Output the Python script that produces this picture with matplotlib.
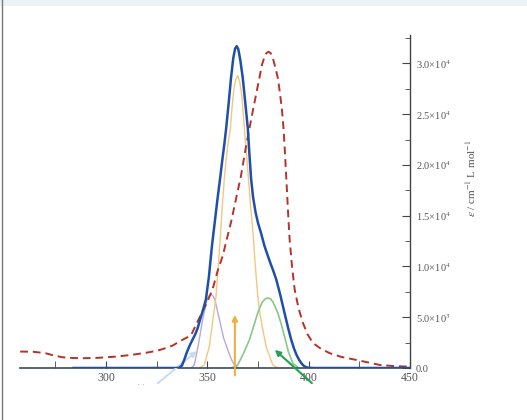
import matplotlib
matplotlib.use("Agg")
import matplotlib.pyplot as plt
from matplotlib.patches import Rectangle
from matplotlib.lines import Line2D
from matplotlib.ticker import MultipleLocator, FixedLocator

plt.rcParams["mathtext.fontset"] = "stix"

# ---- data ----
red_x = [257.7, 264, 270.1, 274, 278.4, 283, 288.3, 296, 304.8, 313, 321.3, 327, 332.8,
         337, 341.9, 346, 349.5, 352.6, 355, 357.6, 360, 361.7, 364, 366.5, 369.2, 372.4,
         375.7, 377, 378.3, 379.3, 380.3, 381.3, 382.5, 383.7, 384.8, 385.9, 386.9, 387.6,
         388.1, 388.9, 389.8, 390.6, 391.8, 393.1, 395, 397.2, 399.5, 402.2, 406, 410.4,
         416, 423.6, 430, 435.1, 442, 450]
red_y = [1620, 1600, 1460, 1250, 1060, 990, 960, 1000, 1120, 1300, 1550, 1800, 2200,
         2700, 3200, 4900, 6300, 7740, 9500, 11040, 13000, 14350, 16500, 18800, 21950, 25270,
         28570, 29900, 30700, 31050, 31150, 31000, 30400, 29500, 28570, 27000, 25270, 23600,
         21950, 18980, 15500, 12700, 10000, 7740, 5900, 4430, 3300, 2450, 1900, 1460,
         1100, 790, 520, 300, 190, 130]

blue_x = [284, 330, 336, 337.5, 338.6, 340, 341.5, 342.7, 344, 345.2, 346.5, 348, 349.3,
          350.8, 352.3, 353.7, 355, 356.3, 357.6, 358.5, 359.3, 360.5, 361.7, 362.8, 363.7,
          364.5, 365.3, 366.3, 367.5, 368.8, 370.0, 370.8, 371.6, 372.6, 373.8, 375, 376.5,
          378.2, 379.6, 381, 382.5, 384, 386, 388.1, 389.8, 391.4, 392.8, 394, 395.3, 396.5,
          397.5, 398.5, 400, 403, 450]
blue_y = [0, 0, 0, 250, 794, 1600, 2300, 2780, 3300, 3900, 4800, 5800, 6750,
          9000, 12030, 14400, 16600, 18650, 20800, 22200, 23600, 26000, 28570, 30500, 31450,
          31700, 31400, 30300, 28570, 26000, 23600, 21000, 18650, 16800, 15350, 14300, 13300,
          12030, 11200, 10400, 9600, 8730, 7200, 5420, 4000, 2780, 1900, 1300, 800, 450,
          230, 100, 20, 0, 0]

orange_x = [346, 348.5, 351, 354.3, 355.5, 356.7, 357.5, 358.4, 359.5, 360.4, 361.4, 362.2,
            363, 364, 365, 366, 367, 368.3, 369.3, 370.3, 371.3, 372.4, 373.6, 374.9, 376,
            377, 379, 382.3, 385]
orange_y = [0, 300, 2110, 7070, 10300, 13690, 16200, 18650, 21000, 22400, 23600, 25600,
            27300, 28400, 28800, 28200, 26900, 23600, 21200, 18650, 16100, 13690, 10300, 7070, 5300,
            4200, 2110, 300, 0]

green_x = [362, 365, 368, 370.8, 373, 374.9, 377, 378.5, 379.9, 381.3, 382.5, 384.8, 386.5,
           388.1, 390, 392.2, 395]
green_y = [0, 300, 1500, 2780, 4200, 5420, 6450, 6800, 6900, 6800, 6450, 5420, 4300,
           3100, 1600, 470, 0]

lav_x = [342, 343.6, 345.5, 347.7, 349.8, 350.8, 351.8, 352.8, 353.8, 356, 358, 360.1, 362,
         363.4, 365]
lav_y = [0, 300, 2200, 4760, 6700, 7100, 7240, 7100, 6700, 4760, 3000, 1790, 800,
         300, 0]

xticks = [300, 350, 400, 450]
yticks = [0, 5000, 10000, 15000, 20000, 25000, 30000]
ytick_labels = ["0.0", "5.0×10$^3$", "1.0×10$^4$", "1.5×10$^4$", "2.0×10$^4$",
                "2.5×10$^4$", "3.0×10$^4$"]

# ---- figure ----
fig = plt.figure(figsize=(5.27, 4.2), dpi=100)
fig.patch.set_facecolor("white")
fig.patches.append(Rectangle((0, 1 - 6 / 420), 1, 6 / 420, transform=fig.transFigure,
                             facecolor="#edf2f7", edgecolor="none", zorder=0))
fig.lines.append(Line2D([2 / 527, 2 / 527], [0, 1], transform=fig.transFigure,
                        color="#777777", lw=1.0))

ax = fig.add_axes([20 / 527, 1 - 368 / 420, 390 / 527, (368 - 35) / 420])
ax.set_xlim(257.6, 450)
ax.set_ylim(0, 32800)

gray = "#555555"
ax.plot(lav_x, lav_y, color="#b8a8d8", lw=1.0, zorder=2)
ax.plot(orange_x, orange_y, color="#f2c77e", lw=1.0, zorder=2)
ax.plot(green_x, green_y, color="#86c98a", lw=1.2, zorder=2)
ax.plot(red_x, red_y, color="#b5332a", lw=1.4, ls=(0, (4, 2.5)), zorder=3)
ax.plot(blue_x, blue_y, color="#1f4fa8", lw=1.8, zorder=4)

# spines
for s in ["top", "left"]:
    ax.spines[s].set_visible(False)
ax.spines["bottom"].set_color("#3a4a5a")
ax.spines["right"].set_color("#444444")
ax.spines["bottom"].set_linewidth(1.2)
ax.spines["right"].set_linewidth(1.0)

ax.yaxis.tick_right()
ax.xaxis.set_major_locator(FixedLocator(xticks))
ax.xaxis.set_minor_locator(MultipleLocator(25))
ax.yaxis.set_major_locator(FixedLocator(yticks))
ax.yaxis.set_minor_locator(MultipleLocator(2500))
ax.set_yticklabels(ytick_labels)
ax.set_xticklabels([str(t) for t in xticks])
ax.tick_params(axis="x", which="both", direction="in", length=5, color="#444444",
               labelsize=8.5, labelcolor=gray, pad=3)
ax.tick_params(axis="y", which="major", direction="in", length=6, color="#444444",
               labelsize=7.5, labelcolor=gray, pad=4)
ax.tick_params(axis="y", which="minor", direction="in", length=3.5, color="#444444")
for lbl in ax.get_xticklabels() + ax.get_yticklabels():
    lbl.set_fontfamily("Liberation Serif")

fig.text(471 / 527, 1 - 178 / 420, "$\\varepsilon$ / cm$^{-1}$ L mol$^{-1}$", rotation=90,
         ha="center", va="center", fontsize=8, color=gray, family="Liberation Serif")

# arrows
ax.annotate("", xy=(363.6, 5500), xytext=(363.6, -1000),
            arrowprops=dict(arrowstyle="-|>", color="#f0b040", lw=1.5,
                            mutation_scale=8), annotation_clip=False)
ax.annotate("", xy=(382.3, 1970), xytext=(402.6, -1670),
            arrowprops=dict(arrowstyle="-|>", color="#22a055", lw=1.5,
                            mutation_scale=8), annotation_clip=False)
ax.annotate("", xy=(345.9, 1840), xytext=(324.5, -1670),
            arrowprops=dict(arrowstyle="-|>", color="#c8dcf0", lw=1.5,
                            mutation_scale=8), annotation_clip=False)
fig.text(137 / 527, 1 - 385 / 420, "· ·", fontsize=6, color="#999999",
         ha="left", va="center")

fig.savefig("out.png", dpi=100)
